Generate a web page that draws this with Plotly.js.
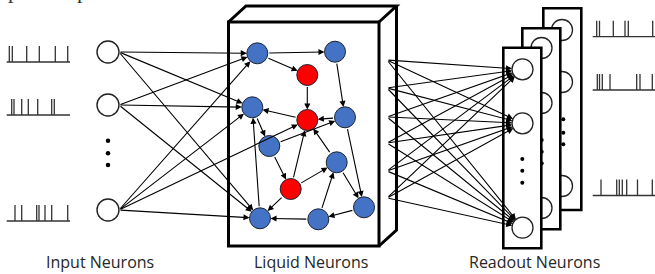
<!DOCTYPE html>
<html>
<head>
<meta charset="utf-8">
<script src="https://cdn.plot.ly/plotly-3.0.1.min.js"></script>
<style>html,body{margin:0;padding:0;background:#fff;}#chart{width:655px;height:274px;}</style>
</head>
<body>
<div id="chart"></div>
<script>
// ---------------- data ----------------
// input spike trains (baseline y and spike x positions)
const inputTrainY = [62, 115, 221];
const inputSpikes = [
  [9.3, 12.3, 26.7, 39.3, 55.3, 67.7],
  [11.7, 14, 21.7, 28.3, 37.7, 51.7, 54.3],
  [15, 21.7, 36.7, 39, 45, 51.7, 67.7]
];
// output spike trains
const outputTrainY = [36.7, 90, 195.5];
const outputSpikes = [
  [596.7, 599.5, 613.3, 625, 628.3, 652.7],
  [597.3, 599.5, 602.3, 610, 636.7, 640, 652.3],
  [601, 616.7, 619.3, 622.3, 626.7, 637.5, 652.3]
];
// input neurons
const inputNeuronX = [108, 108, 108];
const inputNeuronY = [52, 105, 210];
const inputDotsY = [140.7, 153.3, 165];
// liquid neurons
const liquidX = [257.3, 335, 307.3, 252.3, 307.3, 345, 269.3, 336.7, 290.7, 364, 260, 318.3];
const liquidY = [53.3, 51.7, 75, 107.3, 120, 117.3, 146, 162.3, 189, 207.3, 218.3, 219.3];
const liquidType = ['exc','exc','inh','exc','inh','exc','exc','exc','inh','exc','exc','exc'];
const liquidEdgesFrom = [0, 0, 1, 2, 5, 4, 3, 6, 6, 8, 8, 8, 7, 7, 5, 9, 11, 11, 10];
const liquidEdgesTo   = [1, 2, 5, 4, 4, 3, 6, 5, 8, 4, 7, 10, 4, 9, 9, 11, 7, 10, 3];
// input -> liquid connections
const inputConnFrom = [0, 0, 0, 1, 1, 1, 2, 2, 2, 2];
const inputConnTo   = [0, 3, 10, 0, 3, 10, 0, 3, 4, 10];
// liquid readout taps
const tapX = 387;
const tapY = [60, 88, 117, 143, 171, 198];
// readout layers (back, middle, front)
const readoutBoxX0 = [543.3, 522.3, 503.3];
const readoutBoxY0 = [8.3, 28.3, 47.7];
const readoutBoxY1 = [210, 229.3, 248.3];
const readoutNeuronX = [562, 541.5, 522.5];
const readoutNeuronY = [[30, 82, 186], [48, 103, 208], [69.3, 123.3, 227.7]];
const readoutDotsX = [563.3, 541.7, 522.3];
const readoutDotsY = [[119.3, 132.7, 144.3], [140, 151.7, 163.3], [159, 170.7, 182.7]];
// labels
const labelText = ['Input Neurons', 'Liquid Neurons', 'Readout Neurons'];
const labelX = [100, 311, 534];

// ---------------- styles ----------------
const INK = '#222';
const SPIKE_H = 16;
const R_NODE = 10.5;
const R_IN = 11;
const BOX_W = 38;

function spikeTrain(baseY, spikes, x0, x1) {
  const xs = [x0, x1, null], ys = [baseY, baseY, null];
  spikes.forEach(s => { xs.push(s, s, null); ys.push(baseY, baseY - SPIKE_H, null); });
  return {x: xs, y: ys};
}

const traces = [];
inputTrainY.forEach((y, i) => {
  const t = spikeTrain(y, inputSpikes[i], 6.7, 70);
  traces.push({type: 'scatter', mode: 'lines', x: t.x, y: t.y, line: {color: '#333', width: 1.3}, hoverinfo: 'skip'});
});
outputTrainY.forEach((y, i) => {
  const t = spikeTrain(y, outputSpikes[i], 592.7, 655);
  traces.push({type: 'scatter', mode: 'lines', x: t.x, y: t.y, line: {color: '#333', width: 1.3}, hoverinfo: 'skip'});
});
// input neurons
traces.push({type: 'scatter', mode: 'markers', x: inputNeuronX, y: inputNeuronY,
  marker: {size: 2 * R_IN, color: '#fff', line: {color: INK, width: 1.4}}, hoverinfo: 'skip'});
traces.push({type: 'scatter', mode: 'markers', x: inputDotsY.map(() => inputNeuronX[0]), y: inputDotsY,
  marker: {size: 4.5, color: '#000'}, hoverinfo: 'skip'});
// liquid neurons
traces.push({type: 'scatter', mode: 'markers', x: liquidX, y: liquidY,
  marker: {size: 2 * R_NODE, color: liquidType.map(t => t === 'inh' ? '#FF0000' : '#4472C4'),
    line: {color: '#1a2233', width: 1}}, hoverinfo: 'skip'});

// ---------------- shapes ----------------
const shapes = [];
// liquid box: front face + depth
shapes.push({type: 'rect', xref: 'x', yref: 'y', x0: 228.5, y0: 22, x1: 379, y1: 246, line: {color: '#000', width: 3}, layer: 'below'});
shapes.push({type: 'path', xref: 'x', yref: 'y', path: 'M228.5,22 L246,6 L396.5,6 L379,22 M396.5,6 L396.5,230 L379,246',
  line: {color: '#000', width: 3}, layer: 'below'});
// readout layers
for (let L = 0; L < 3; L++) {
  shapes.push({type: 'rect', xref: 'x', yref: 'y', x0: readoutBoxX0[L], x1: readoutBoxX0[L] + BOX_W,
    y0: readoutBoxY0[L], y1: readoutBoxY1[L], fillcolor: '#fff', line: {color: '#000', width: 2.6}, layer: 'above'});
  readoutNeuronY[L].forEach(y => {
    shapes.push({type: 'circle', xref: 'x', yref: 'y', x0: readoutNeuronX[L] - R_NODE, x1: readoutNeuronX[L] + R_NODE,
      y0: y - R_NODE, y1: y + R_NODE, fillcolor: '#fff', line: {color: INK, width: 1.3}, layer: 'above'});
  });
  readoutDotsY[L].forEach(y => {
    shapes.push({type: 'circle', xref: 'x', yref: 'y', x0: readoutDotsX[L] - 2, x1: readoutDotsX[L] + 2,
      y0: y - 2, y1: y + 2, fillcolor: '#000', line: {width: 0}, layer: 'above'});
  });
}

// ---------------- arrows ----------------
const annotations = [];
function arrow(x0, y0, x1, y1, startOff, endOff) {
  annotations.push({x: x1, y: y1, ax: x0, ay: y0, xref: 'x', yref: 'y', axref: 'x', ayref: 'y',
    text: '', showarrow: true, arrowhead: 2, arrowsize: 1.1, arrowwidth: 1.1, arrowcolor: '#000',
    standoff: endOff, startstandoff: startOff});
}
inputConnFrom.forEach((f, i) => {
  const t = inputConnTo[i];
  arrow(inputNeuronX[f] + R_IN, inputNeuronY[f], liquidX[t], liquidY[t], 0, R_NODE);
});
liquidEdgesFrom.forEach((f, i) => {
  const t = liquidEdgesTo[i];
  arrow(liquidX[f], liquidY[f], liquidX[t], liquidY[t], R_NODE, R_NODE);
});
tapY.forEach(ty => {
  readoutNeuronY[2].forEach(ry => arrow(tapX, ty, readoutNeuronX[2], ry, 0, R_NODE));
});
// labels
labelText.forEach((t, i) => {
  annotations.push({x: labelX[i], y: 274, xref: 'x', yref: 'y', text: t, showarrow: false, borderpad: 0,
    font: {family: 'Open Sans', size: 16, color: '#262626'}, xanchor: 'center', yanchor: 'bottom'});
});
// clipped caption remnants at top
[5.5, 74.5].forEach(x => {
  annotations.push({x: x, y: 5, xref: 'x', yref: 'y', text: 'p', showarrow: false,
    font: {family: 'Liberation Serif', size: 22, color: '#333'}, xanchor: 'left', yanchor: 'bottom'});
});

const layout = {
  width: 655, height: 274,
  margin: {l: 0, r: 0, t: 0, b: 0},
  paper_bgcolor: '#fff', plot_bgcolor: '#fff',
  showlegend: false,
  xaxis: {range: [0, 655], visible: false, fixedrange: true},
  yaxis: {range: [274, 0], visible: false, fixedrange: true},
  shapes: shapes,
  annotations: annotations
};
Plotly.newPlot('chart', traces, layout, {staticPlot: true, displayModeBar: false});
</script>
</body>
</html>
